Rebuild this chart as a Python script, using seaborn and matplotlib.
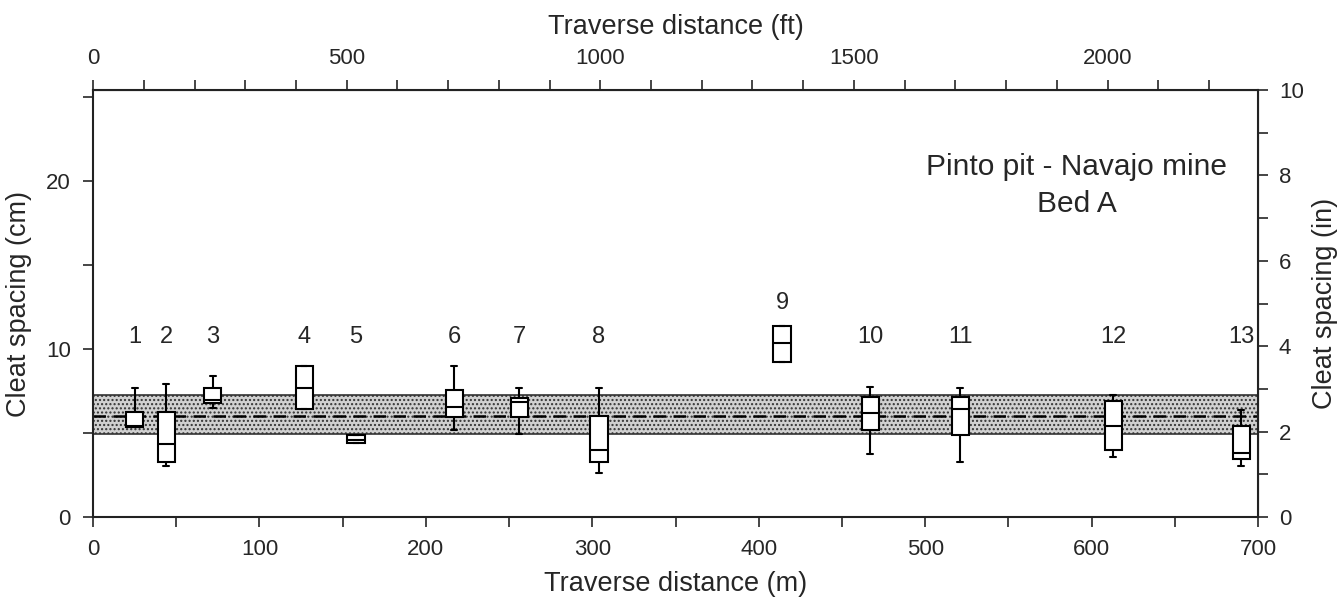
import numpy as np
import pandas as pd
import matplotlib
matplotlib.use("Agg")
import matplotlib.pyplot as plt
from matplotlib.ticker import MultipleLocator, FixedLocator
import seaborn as sns

# Box statistics (cleat spacing in cm, distance in m)
site_ids = ["1", "2", "3", "4", "5", "6", "7", "8", "9", "10", "11", "12", "13"]
dist_m = [25, 44, 72, 127, 158, 217, 256, 304, 414, 467, 521, 613, 690]
whisk_lo = [5.37, 3.05, 6.50, 6.43, 4.42, 5.18, 4.92, 2.64, 9.24, 3.73, 3.29, 3.59, 3.04]
q1 = [5.37, 3.29, 6.77, 6.43, 4.42, 5.97, 5.97, 3.26, 9.24, 5.18, 4.88, 3.99, 3.43]
median = [5.40, 4.33, 6.93, 7.66, 4.60, 6.51, 6.86, 3.99, 10.34, 6.17, 6.41, 5.38, 3.79]
q3 = [6.27, 6.27, 7.70, 8.99, 4.85, 7.56, 7.07, 6.01, 11.37, 7.16, 7.16, 6.90, 5.38]
whisk_hi = [7.70, 7.90, 8.41, 8.99, 4.85, 8.99, 7.66, 7.66, 11.37, 7.72, 7.66, 7.26, 6.37]
label_y = [10.7, 10.7, 10.7, 10.7, 10.7, 10.7, 10.7, 10.7, 12.75, 10.7, 10.7, 10.7, 10.7]

band_lo, band_hi = 4.92, 7.26
mean_spacing = 6.03

ft_ticks = [0, 500, 1000, 1500, 2000]
ft_minor = list(range(0, 2300, 100))

# five values per site -> boxplot reproduces the five-number summary
rows = []
for d, a, b, c, e, f in zip(dist_m, whisk_lo, q1, median, q3, whisk_hi):
    for v in (a, b, c, e, f):
        rows.append({"dist": d, "cm": v})
df = pd.DataFrame(rows)

sns.set_style("ticks")
plt.rcParams["font.family"] = ["Liberation Sans", "DejaVu Sans"]

fig = plt.figure(figsize=(13.43, 6.01), dpi=100)
ax = fig.add_axes([0.0693, 0.140, 0.8674, 0.710])

# shaded range and mean line
ax.axhspan(band_lo, band_hi, facecolor="#d0d0d0", edgecolor="#333333",
           hatch="....", linewidth=1.2, zorder=0)
ax.axhline(mean_spacing, color="black", linestyle=(0, (5, 3)), linewidth=1.8, zorder=1)

sns.boxplot(data=df, x="dist", y="cm", native_scale=True, whis=(0, 100),
            width=0.54, color="white", linecolor="black", linewidth=1.5,
            fliersize=0, capwidths=3.6, ax=ax, zorder=3)

for sid, d, ly in zip(site_ids, dist_m, label_y):
    ax.text(d, ly, sid, ha="center", va="center", fontsize=17)

ax.text(591, 20.8, "Pinto pit - Navajo mine", ha="center", va="center", fontsize=21.5)
ax.text(591, 18.6, "Bed A", ha="center", va="center", fontsize=21.5)

ax.set_xlim(0, 700)
ax.set_ylim(0, 25.4)
ax.xaxis.set_major_locator(MultipleLocator(100))
ax.xaxis.set_minor_locator(MultipleLocator(50))
ax.yaxis.set_major_locator(MultipleLocator(10))
ax.yaxis.set_minor_locator(MultipleLocator(5))
ax.tick_params(which="both", direction="out", labelsize=16, width=1.2, length=7, pad=9)
ax.set_xlabel("Traverse distance (m)", fontsize=19.5, labelpad=8)
ax.set_ylabel("Cleat spacing (cm)", fontsize=19.5, labelpad=10)
for s in ax.spines.values():
    s.set_visible(True)
    s.set_linewidth(1.5)
    s.set_color("#222222")

top = ax.secondary_xaxis("top", functions=(lambda m: m / 0.3048, lambda f: f * 0.3048))
top.xaxis.set_major_locator(FixedLocator(ft_ticks))
top.xaxis.set_minor_locator(FixedLocator(ft_minor))
top.tick_params(which="both", direction="out", length=7, width=1.2, labelsize=16, pad=8)
top.set_xlabel("Traverse distance (ft)", fontsize=19.5, labelpad=10)

right = ax.secondary_yaxis("right", functions=(lambda c: c / 2.54, lambda i: i * 2.54))
right.yaxis.set_major_locator(FixedLocator([0, 2, 4, 6, 8, 10]))
right.yaxis.set_minor_locator(FixedLocator(list(range(0, 11))))
right.tick_params(which="both", direction="out", length=7, width=1.2, labelsize=16, pad=8)
right.set_ylabel("Cleat spacing (in)", fontsize=19.5, labelpad=6)

fig.savefig("out.png", dpi=100)
